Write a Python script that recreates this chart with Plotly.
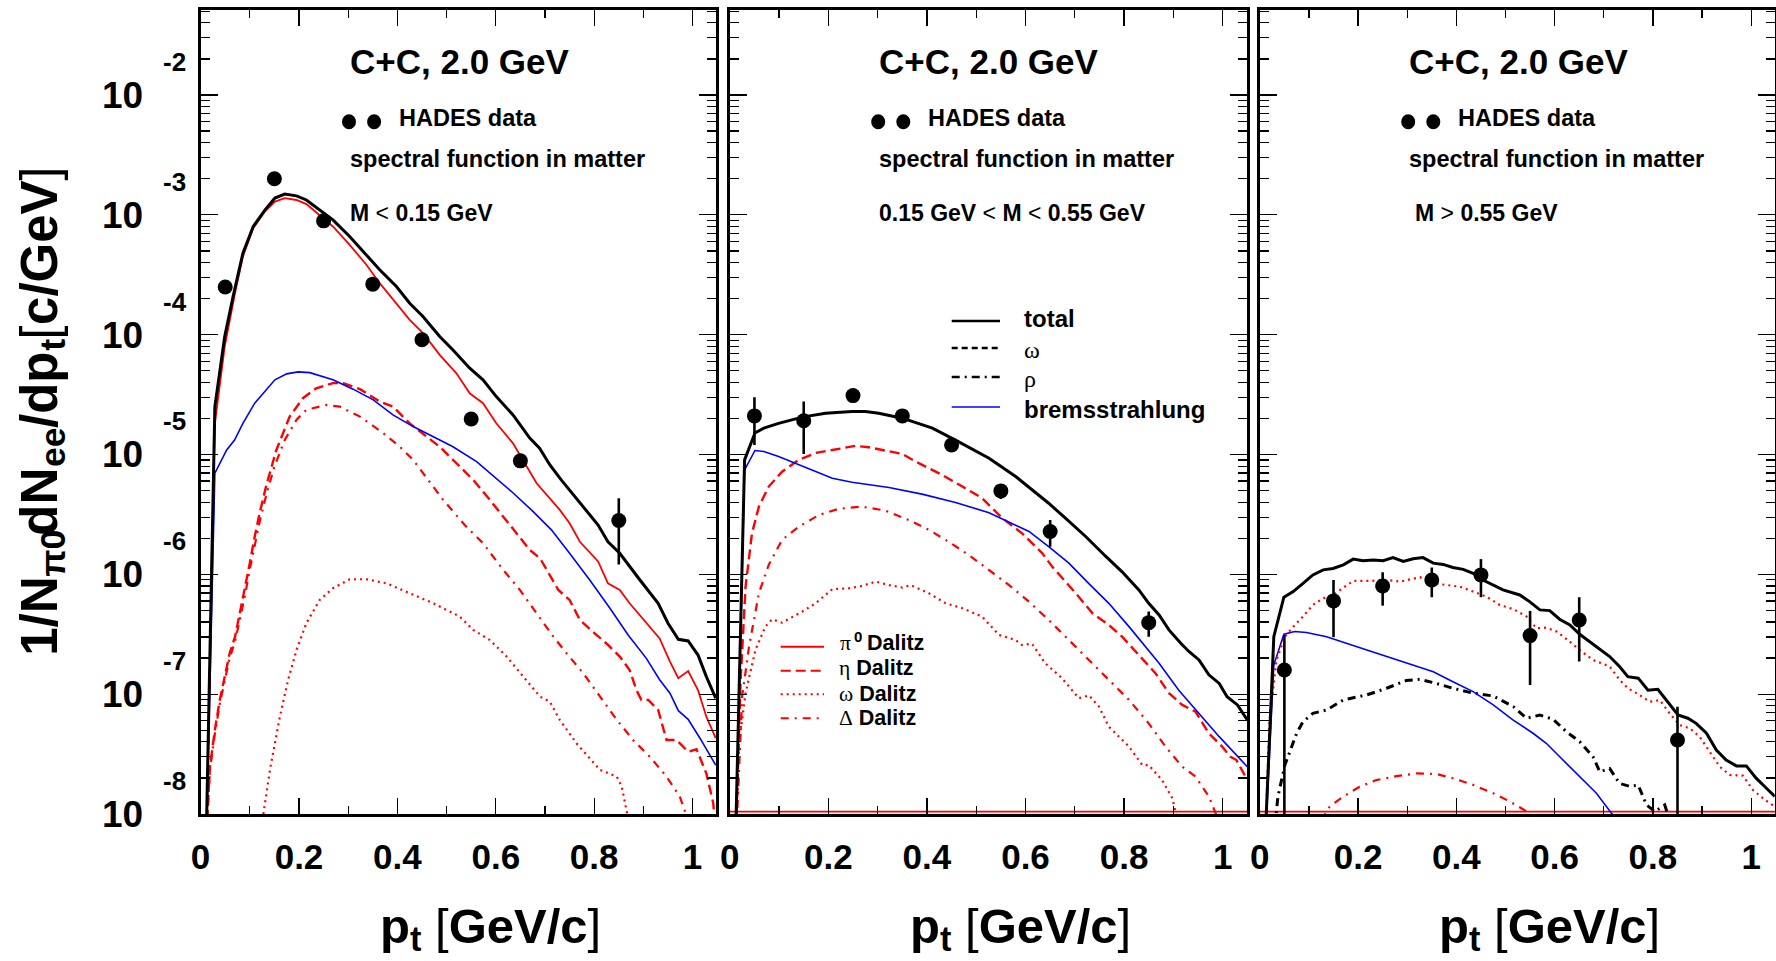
import plotly.graph_objects as go

W, H = 1776, 961

# ----------------------------- data -----------------------------
data_pt = [0.05, 0.15, 0.25, 0.35, 0.45, 0.55, 0.65, 0.85]

# ---- panel 1 : M < 0.15 GeV ----
p1_data = [2.50e-4, 2.00e-3, 8.91e-4, 2.64e-4, 9.06e-5, 1.98e-5, 8.85e-6, 2.81e-6]
p1_err_hi = [2.0e-5, 1.6e-4, 7.0e-5, 2.1e-5, 7.0e-6, 1.6e-6, 7.0e-7, 1.5e-6]
p1_err_lo = [2.0e-5, 1.6e-4, 7.0e-5, 2.1e-5, 7.0e-6, 1.6e-6, 7.0e-7, 1.6e-6]

p1_total_pt = [0.010, 0.029, 0.049, 0.066, 0.086, 0.107, 0.131, 0.151, 0.171, 0.195, 0.215, 0.242, 0.269, 0.303,
               0.337, 0.364, 0.398, 0.425, 0.452, 0.486, 0.513, 0.547, 0.574, 0.601, 0.635, 0.669, 0.689, 0.710,
               0.733, 0.771, 0.808, 0.828, 0.852, 0.893, 0.930, 0.950, 0.971, 0.991, 1.011, 1.028, 1.047]
p1_total = [3.16e-9, 2.51e-5, 9.64e-5, 2.08e-4, 4.79e-4, 8.00e-4, 1.10e-3, 1.38e-3, 1.49e-3, 1.44e-3, 1.33e-3,
            1.10e-3, 9.08e-4, 6.59e-4, 4.63e-4, 3.48e-4, 2.52e-4, 1.83e-4, 1.42e-4, 9.64e-5, 7.46e-5, 5.25e-5,
            4.20e-5, 3.04e-5, 2.14e-5, 1.37e-5, 1.13e-5, 8.18e-6, 6.14e-6, 3.92e-6, 2.58e-6, 1.87e-6, 1.50e-6,
            8.97e-7, 5.73e-7, 3.91e-7, 2.87e-7, 2.78e-7, 2.12e-7, 1.40e-7, 9.25e-8]

p1_pi0_pt = [0.010, 0.029, 0.049, 0.070, 0.086, 0.107, 0.131, 0.151, 0.171, 0.195, 0.215, 0.242, 0.269, 0.303,
             0.337, 0.364, 0.398, 0.425, 0.452, 0.486, 0.520, 0.547, 0.574, 0.601, 0.635, 0.669, 0.683, 0.730,
             0.750, 0.771, 0.808, 0.828, 0.852, 0.872, 0.913, 0.933, 0.954, 0.971, 0.991, 1.011, 1.028, 1.047]
p1_pi0 = [3.16e-9, 1.82e-5, 7.96e-5, 2.22e-4, 4.49e-4, 7.74e-4, 1.07e-3, 1.29e-3, 1.38e-3, 1.33e-3, 1.23e-3,
          1.00e-3, 8.00e-4, 5.62e-4, 3.83e-4, 2.69e-4, 1.83e-4, 1.33e-4, 1.03e-4, 6.78e-5, 4.76e-5, 3.24e-5,
          2.68e-5, 1.82e-5, 1.24e-5, 7.19e-6, 5.75e-6, 3.45e-6, 2.67e-6, 1.87e-6, 1.28e-6, 8.41e-7, 7.41e-7,
          5.73e-7, 3.66e-7, 2.92e-7, 1.87e-7, 1.36e-7, 1.56e-7, 1.08e-7, 6.49e-8, 4.29e-8]

p1_brems_pt = [0.010, 0.029, 0.053, 0.069, 0.086, 0.110, 0.151, 0.175, 0.198, 0.222, 0.269, 0.310, 0.351, 0.391,
               0.432, 0.473, 0.513, 0.561, 0.601, 0.632, 0.676, 0.713, 0.750, 0.791, 0.832, 0.869, 0.906, 0.933,
               0.954, 0.971, 0.991, 1.015, 1.047]
p1_brems = [3.16e-9, 6.98e-6, 1.09e-5, 1.32e-5, 1.82e-5, 2.68e-5, 4.20e-5, 4.71e-5, 4.89e-5, 4.82e-5, 4.20e-5,
            3.51e-5, 2.86e-5, 2.14e-5, 1.71e-5, 1.41e-5, 1.16e-5, 8.73e-6, 6.34e-6, 4.91e-6, 3.34e-6, 2.35e-6,
            1.50e-6, 8.97e-7, 5.21e-7, 3.12e-7, 1.99e-7, 1.32e-7, 1.02e-7, 7.28e-8, 6.17e-8, 4.29e-8, 2.56e-8]

p1_eta_pt = [0.010, 0.019, 0.029, 0.039, 0.049, 0.059, 0.070, 0.080, 0.090, 0.100, 0.110, 0.120, 0.134, 0.154,
             0.181, 0.208, 0.235, 0.269, 0.290, 0.324, 0.364, 0.391, 0.425, 0.459, 0.486, 0.520, 0.554, 0.588,
             0.615, 0.642, 0.669, 0.690, 0.706, 0.727, 0.750, 0.771, 0.801, 0.828, 0.852, 0.872, 0.886, 0.896,
             0.910, 0.930, 0.947, 0.967, 0.991, 1.008, 1.028, 1.042, 1.048]
p1_eta = [5.01e-9, 2.48e-8, 5.02e-8, 8.95e-8, 1.40e-7, 2.19e-7, 3.02e-7, 4.73e-7, 7.41e-7, 1.24e-6, 2.07e-6,
          3.24e-6, 5.62e-6, 1.09e-5, 2.07e-5, 2.95e-5, 3.57e-5, 3.94e-5, 3.94e-5, 3.51e-5, 2.77e-5, 2.51e-5,
          1.82e-5, 1.41e-5, 1.16e-5, 8.45e-6, 6.14e-6, 4.18e-6, 3.03e-6, 2.20e-6, 1.60e-6, 1.36e-6, 1.05e-6,
          7.41e-7, 6.11e-7, 4.16e-7, 3.22e-7, 2.58e-7, 2.06e-7, 1.59e-7, 1.08e-7, 8.95e-8, 8.95e-8, 7.38e-8,
          4.15e-8, 4.15e-8, 3.31e-8, 3.47e-8, 2.18e-8, 1.23e-8, 6.31e-9]

p1_delta_pt = [0.010, 0.019, 0.029, 0.039, 0.049, 0.059, 0.070, 0.080, 0.090, 0.100, 0.110, 0.120, 0.134, 0.150,
               0.171, 0.195, 0.215, 0.256, 0.283, 0.324, 0.371, 0.405, 0.432, 0.463, 0.493, 0.540, 0.574, 0.615,
               0.649, 0.683, 0.717, 0.744, 0.778, 0.812, 0.846, 0.879, 0.913, 0.947, 0.974, 0.995]
p1_delta = [5.01e-9, 2.34e-8, 4.68e-8, 8.32e-8, 1.29e-7, 2.00e-7, 2.75e-7, 4.27e-7, 6.61e-7, 1.10e-6, 1.78e-6,
            2.75e-6, 4.68e-6, 7.94e-6, 1.32e-5, 1.95e-5, 2.36e-5, 2.59e-5, 2.51e-5, 2.07e-5, 1.51e-5, 1.16e-5,
            9.02e-6, 6.14e-6, 4.18e-6, 2.50e-6, 1.82e-6, 1.09e-6, 7.41e-7, 4.73e-7, 3.02e-7, 2.19e-7, 1.49e-7,
            9.53e-8, 6.10e-8, 4.15e-8, 3.01e-8, 2.05e-8, 1.40e-8, 7.94e-9]

p1_omega_pt = [0.124, 0.141, 0.161, 0.178, 0.195, 0.215, 0.242, 0.269, 0.303, 0.337, 0.378, 0.418, 0.473, 0.527,
               0.554, 0.588, 0.622, 0.656, 0.690, 0.710, 0.730, 0.764, 0.812, 0.846, 0.856, 0.872]
p1_omega = [7.94e-9, 2.34e-8, 6.46e-8, 1.32e-7, 2.34e-7, 3.91e-7, 6.11e-7, 7.66e-7, 9.10e-7, 9.10e-7, 8.41e-7,
            7.18e-7, 5.73e-7, 4.44e-7, 3.44e-7, 2.83e-7, 2.06e-7, 1.40e-7, 9.53e-8, 8.65e-8, 6.10e-8, 3.89e-8,
            2.33e-8, 2.05e-8, 1.69e-8, 7.94e-9]

# ---- panel 2 : 0.15 GeV < M < 0.55 GeV ----
p2_data = [2.10e-5, 1.91e-5, 3.10e-5, 2.10e-5, 1.20e-5, 4.97e-6, 2.28e-6, 3.95e-7]
p2_err_hi = [9.1e-6, 8.6e-6, 2.0e-6, 1.5e-6, 8.0e-7, 6.0e-7, 5.6e-7, 9.4e-8]
p2_err_lo = [9.0e-6, 9.0e-6, 2.0e-6, 1.5e-6, 8.0e-7, 7.1e-7, 5.8e-7, 9.3e-8]

p2_total_pt = [0.010, 0.030, 0.051, 0.069, 0.099, 0.147, 0.194, 0.248, 0.275, 0.302, 0.350, 0.411, 0.458, 0.526,
               0.580, 0.647, 0.681, 0.722, 0.763, 0.796, 0.830, 0.850, 0.871, 0.891, 0.915, 0.932, 0.952, 0.972,
               0.993, 1.009, 1.030, 1.050]
p2_total = [3.16e-9, 9.02e-6, 1.51e-5, 1.66e-5, 1.82e-5, 2.05e-5, 2.21e-5, 2.28e-5, 2.28e-5, 2.21e-5, 2.01e-5,
            1.66e-5, 1.32e-5, 9.31e-6, 6.55e-6, 3.92e-6, 2.94e-6, 2.07e-6, 1.41e-6, 1.05e-6, 7.41e-7, 5.73e-7,
            4.58e-7, 3.44e-7, 2.66e-7, 2.26e-7, 1.93e-7, 1.45e-7, 1.23e-7, 9.53e-8, 8.13e-8, 6.10e-8]

p2_brems_pt = [0.010, 0.030, 0.051, 0.069, 0.099, 0.133, 0.167, 0.208, 0.248, 0.323, 0.390, 0.458, 0.526, 0.566,
               0.607, 0.647, 0.688, 0.728, 0.769, 0.810, 0.850, 0.871, 0.911, 0.952, 0.993, 1.050]
p2_brems = [3.16e-9, 7.43e-6, 1.08e-5, 1.06e-5, 9.62e-6, 8.45e-6, 7.35e-6, 6.34e-6, 5.87e-6, 5.30e-6, 4.67e-6,
            3.97e-6, 3.27e-6, 2.75e-6, 2.28e-6, 1.70e-6, 1.24e-6, 8.41e-7, 5.73e-7, 3.66e-7, 2.34e-7, 1.81e-7,
            1.08e-7, 6.92e-8, 4.42e-8, 2.48e-8]

p2_eta_pt = [0.010, 0.022, 0.032, 0.045, 0.059, 0.079, 0.106, 0.140, 0.174, 0.215, 0.255, 0.282, 0.350, 0.377,
             0.431, 0.472, 0.512, 0.553, 0.593, 0.634, 0.654, 0.675, 0.702, 0.736, 0.769, 0.796, 0.830, 0.864,
             0.891, 0.918, 0.945, 0.972, 0.999, 1.015, 1.028, 1.050]
p2_eta = [3.16e-9, 1.32e-7, 7.89e-7, 2.20e-6, 3.67e-6, 5.40e-6, 7.19e-6, 9.02e-6, 1.03e-5, 1.11e-5, 1.18e-5,
          1.15e-5, 1.01e-5, 8.73e-6, 6.76e-6, 5.40e-6, 4.32e-6, 2.94e-6, 2.20e-6, 1.50e-6, 1.16e-6, 9.27e-7,
          6.95e-7, 4.73e-7, 3.78e-7, 3.02e-7, 2.12e-7, 1.49e-7, 1.02e-7, 8.13e-8, 7.14e-8, 4.71e-8, 3.65e-8,
          3.01e-8, 2.82e-8, 1.92e-8]

p2_delta_pt = [0.010, 0.025, 0.039, 0.059, 0.079, 0.106, 0.140, 0.181, 0.221, 0.268, 0.316, 0.363, 0.404, 0.444,
               0.485, 0.526, 0.566, 0.607, 0.647, 0.688, 0.728, 0.769, 0.810, 0.850, 0.884, 0.918, 0.945, 0.972,
               0.996]
p2_delta = [3.16e-9, 9.53e-8, 2.49e-7, 6.95e-7, 1.20e-6, 1.94e-6, 2.50e-6, 3.13e-6, 3.52e-6, 3.67e-6, 3.40e-6,
            2.84e-6, 2.35e-6, 1.87e-6, 1.45e-6, 1.09e-6, 8.17e-7, 5.92e-7, 4.16e-7, 2.83e-7, 1.93e-7, 1.32e-7,
            8.95e-8, 5.71e-8, 3.65e-8, 2.48e-8, 2.05e-8, 1.40e-8, 7.94e-9]

p2_omega_pt = [0.010, 0.018, 0.032, 0.052, 0.072, 0.086, 0.106, 0.147, 0.174, 0.208, 0.241, 0.268, 0.296, 0.323,
               0.350, 0.367, 0.404, 0.438, 0.472, 0.512, 0.546, 0.580, 0.593, 0.613, 0.640, 0.674, 0.708, 0.729,
               0.749, 0.769, 0.810, 0.837, 0.850, 0.877, 0.898, 0.911]
p2_omega = [3.16e-9, 3.65e-8, 1.02e-7, 2.34e-7, 3.66e-7, 4.22e-7, 3.95e-7, 4.89e-7, 5.73e-7, 7.52e-7, 7.64e-7,
            8.00e-7, 8.69e-7, 8.13e-7, 7.76e-7, 8.13e-7, 6.95e-7, 5.73e-7, 5.21e-7, 4.44e-7, 3.12e-7, 2.83e-7,
            2.57e-7, 2.64e-7, 1.81e-7, 1.36e-7, 9.25e-8, 9.77e-8, 7.87e-8, 5.36e-8, 3.65e-8, 2.56e-8, 2.56e-8,
            1.92e-8, 1.35e-8, 7.94e-9]

p2_pi0_pt = [0.0, 1.05]
p2_pi0 = [0.0, 0.0]

# ---- panel 3 : M > 0.55 GeV ----
p3_data = [1.59e-7, 6.00e-7, 8.00e-7, 8.97e-7, 9.89e-7, 3.08e-7, 4.16e-7, 4.15e-8]
p3_err_hi = [1.53e-7, 2.97e-7, 2.40e-7, 2.43e-7, 3.51e-7, 1.86e-7, 2.28e-7, 3.72e-8]
p3_err_lo = [1.585e-7, 3.01e-7, 2.52e-7, 2.53e-7, 3.45e-7, 1.89e-7, 2.29e-7, 4.10e-8]

p3_total_pt = [0.008, 0.0285, 0.049, 0.068, 0.088, 0.108, 0.129, 0.149, 0.170, 0.190, 0.210, 0.231, 0.251, 0.271,
               0.292, 0.312, 0.332, 0.353, 0.373, 0.393, 0.414, 0.434, 0.454, 0.475, 0.495, 0.529, 0.549, 0.570,
               0.590, 0.610, 0.631, 0.651, 0.678, 0.712, 0.732, 0.749, 0.770, 0.790, 0.810, 0.831, 0.851, 0.871,
               0.888, 0.909, 0.929, 0.949, 0.970, 0.990, 1.010, 1.031, 1.048]
p3_total = [3.16e-9, 3.02e-7, 6.44e-7, 7.18e-7, 8.41e-7, 9.89e-7, 1.09e-6, 1.12e-6, 1.20e-6, 1.34e-6, 1.30e-6,
            1.32e-6, 1.30e-6, 1.38e-6, 1.28e-6, 1.35e-6, 1.38e-6, 1.24e-6, 1.21e-6, 1.14e-6, 1.10e-6, 1.02e-6,
            8.97e-7, 8.17e-7, 7.41e-7, 6.73e-7, 5.92e-7, 5.05e-7, 4.98e-7, 4.22e-7, 3.78e-7, 3.16e-7, 2.62e-7,
            2.06e-7, 1.70e-7, 1.40e-7, 1.36e-7, 1.08e-7, 1.10e-7, 8.49e-8, 6.70e-8, 6.30e-8, 5.71e-8, 4.72e-8,
            3.42e-8, 2.82e-8, 2.52e-8, 2.52e-8, 1.99e-8, 1.64e-8, 1.40e-8]

p3_omega_pt = [0.008, 0.020, 0.034, 0.051, 0.068, 0.088, 0.108, 0.129, 0.149, 0.170, 0.190, 0.224, 0.258, 0.285,
               0.326, 0.353, 0.380, 0.407, 0.434, 0.461, 0.488, 0.516, 0.543, 0.563, 0.583, 0.604, 0.631, 0.651,
               0.678, 0.712, 0.732, 0.749, 0.773, 0.793, 0.814, 0.834, 0.854, 0.875, 0.895, 0.916, 0.936, 0.956,
               0.983, 1.004, 1.024, 1.048]
p3_omega = [3.16e-9, 6.10e-8, 1.93e-7, 3.02e-7, 3.66e-7, 4.44e-7, 5.56e-7, 6.31e-7, 6.73e-7, 7.66e-7, 8.81e-7,
            8.81e-7, 8.97e-7, 8.69e-7, 9.46e-7, 8.41e-7, 8.17e-7, 7.89e-7, 7.18e-7, 6.52e-7, 5.56e-7, 5.12e-7,
            4.44e-7, 3.55e-7, 3.59e-7, 3.33e-7, 2.74e-7, 2.34e-7, 1.93e-7, 1.70e-7, 1.32e-7, 1.12e-7, 9.84e-8,
            8.65e-8, 8.91e-8, 6.92e-8, 5.53e-8, 5.19e-8, 4.42e-8, 3.31e-8, 2.48e-8, 2.12e-8, 2.09e-8, 1.58e-8,
            1.35e-8, 1.15e-8]

p3_brems_pt = [0.008, 0.0285, 0.049, 0.071, 0.095, 0.136, 0.176, 0.217, 0.271, 0.312, 0.353, 0.393, 0.434, 0.475,
               0.515, 0.556, 0.583, 0.617, 0.651, 0.685, 0.726]
p3_brems = [3.16e-9, 1.75e-7, 3.16e-7, 3.33e-7, 3.27e-7, 3.02e-7, 2.66e-7, 2.34e-7, 1.99e-7, 1.75e-7, 1.54e-7,
            1.27e-7, 1.05e-7, 8.13e-8, 6.10e-8, 4.72e-8, 3.89e-8, 2.82e-8, 2.05e-8, 1.49e-8, 8.91e-9]

p3_rho_pt = [0.0305, 0.037, 0.051, 0.064, 0.075, 0.088, 0.108, 0.136, 0.170, 0.217, 0.258, 0.298, 0.326, 0.359,
             0.393, 0.434, 0.475, 0.516, 0.543, 0.570, 0.597, 0.624, 0.651, 0.678, 0.692, 0.712, 0.732, 0.753,
             0.770, 0.787, 0.804, 0.824, 0.838]
p3_rho = [7.94e-9, 1.40e-8, 2.56e-8, 3.65e-8, 4.72e-8, 5.89e-8, 6.92e-8, 7.38e-8, 8.95e-8, 9.84e-8, 1.12e-7,
          1.30e-7, 1.33e-7, 1.23e-7, 1.12e-7, 1.02e-7, 9.66e-8, 7.87e-8, 6.30e-8, 6.70e-8, 6.17e-8, 4.86e-8,
          4.02e-8, 3.01e-8, 2.25e-8, 2.40e-8, 1.80e-8, 1.70e-8, 1.74e-8, 1.19e-8, 1.05e-8, 1.19e-8, 7.94e-9]

p3_delta_pt = [0.125, 0.142, 0.170, 0.203, 0.237, 0.278, 0.319, 0.359, 0.393, 0.434, 0.475, 0.509, 0.543, 0.555]
p3_delta = [8.91e-9, 1.15e-8, 1.40e-8, 1.69e-8, 1.92e-8, 2.07e-8, 2.18e-8, 2.16e-8, 1.99e-8, 1.75e-8, 1.49e-8,
            1.27e-8, 1.05e-8, 7.94e-9]

p3_pi0_pt = [0.0, 1.05]
p3_pi0 = [0.0, 0.0]

panel_titles = ["C+C, 2.0 GeV", "C+C, 2.0 GeV", "C+C, 2.0 GeV"]
mass_labels = ["<b>M</b> &lt; <b>0.15 GeV</b>",
               "<b>0.15 GeV</b> &lt; <b>M</b> &lt; <b>0.55 GeV</b>",
               "<b>M</b> &gt; <b>0.55 GeV</b>"]
x_tick_vals = [0, 0.2, 0.4, 0.6, 0.8, 1.0]
x_tick_text = ["0", "0.2", "0.4", "0.6", "0.8", "1"]
y_decades = [-8, -7, -6, -5, -4, -3, -2]

# ----------------------------- layout constants -----------------------------
FONT = "Liberation Sans, Arial, Helvetica, sans-serif"
SERIF = "Liberation Serif, Times New Roman, serif"
PANEL_L = [200.6, 729.8, 1259.8]
PANEL_R = [716.2, 1247.3, 1774.8]
X_MAX = [1.048, 1.050, 1.048]
Y_TOP_PX, Y_BOT_PX = 10, 814
Y_RANGE = [-8, -1.2907]
Y_FLOOR = 1.045e-8   # zero-valued curves are drawn on the lower frame

RED, BLUE, BLACK = "#ff0000", "#0000ff", "#000000"
STY = {
    "total": dict(color=BLACK, width=3, dash="solid"),
    "pi0": dict(color=RED, width=1.8, dash="solid"),
    "eta": dict(color=RED, width=2.4, dash="10px,5px"),
    "omega": dict(color=RED, width=2.2, dash="2px,4px"),
    "delta": dict(color=RED, width=2.2, dash="8px,6px,2px,6px"),
    "brems": dict(color=BLUE, width=1.6, dash="solid"),
    "rho": dict(color=BLACK, width=3, dash="8px,5px,2px,5px"),
    "omega_dir": dict(color=BLACK, width=2.5, dash="6px,4px"),
}

panels = [
    dict(curves=[("eta", p1_eta_pt, p1_eta), ("delta", p1_delta_pt, p1_delta),
                 ("omega", p1_omega_pt, p1_omega), ("brems", p1_brems_pt, p1_brems),
                 ("pi0", p1_pi0_pt, p1_pi0), ("total", p1_total_pt, p1_total)],
         data=(p1_data, p1_err_hi, p1_err_lo)),
    dict(curves=[("pi0", p2_pi0_pt, p2_pi0), ("omega", p2_omega_pt, p2_omega),
                 ("delta", p2_delta_pt, p2_delta), ("eta", p2_eta_pt, p2_eta),
                 ("brems", p2_brems_pt, p2_brems), ("total", p2_total_pt, p2_total)],
         data=(p2_data, p2_err_hi, p2_err_lo)),
    dict(curves=[("pi0", p3_pi0_pt, p3_pi0), ("delta", p3_delta_pt, p3_delta),
                 ("rho", p3_rho_pt, p3_rho), ("brems", p3_brems_pt, p3_brems),
                 ("omega", p3_omega_pt, p3_omega), ("total", p3_total_pt, p3_total)],
         data=(p3_data, p3_err_hi, p3_err_lo)),
]

fig = go.Figure()

for i, pan in enumerate(panels):
    sfx = "" if i == 0 else str(i + 1)
    for key, pts, vals in pan["curves"]:
        yy = [v if v > 0 else Y_FLOOR for v in vals]
        fig.add_trace(go.Scatter(x=pts, y=yy, mode="lines", line=STY[key],
                                 xaxis="x" + sfx, yaxis="y" + sfx,
                                 hoverinfo="skip", showlegend=False))
    dvals, ehi, elo = pan["data"]
    fig.add_trace(go.Scatter(
        x=data_pt, y=dvals, mode="markers",
        marker=dict(color=BLACK, size=15, symbol="circle"),
        error_y=dict(type="data", array=ehi, arrayminus=elo, symmetric=False,
                     color=BLACK, thickness=2.6, width=0),
        xaxis="x" + sfx, yaxis="y" + sfx, hoverinfo="skip", showlegend=False))

# ----------------------------- axes -----------------------------
minor_y = [m * 10.0 ** e for e in range(-8, -2) for m in range(2, 10)] + [m * 1e-2 for m in range(2, 6)]
layout = {}
for i in range(3):
    sfx = "" if i == 0 else str(i + 1)
    layout["xaxis" + sfx] = dict(
        domain=[PANEL_L[i] / W, PANEL_R[i] / W], range=[0, X_MAX[i]],
        anchor="y" + sfx, showgrid=False, zeroline=False,
        showline=True, linewidth=3, linecolor=BLACK, mirror="ticks",
        ticks="inside", ticklen=16, tickwidth=1.3, tickcolor=BLACK,
        tickmode="array", tickvals=x_tick_vals, ticktext=x_tick_text,
        tickfont=dict(family=FONT, size=35, color=BLACK, weight="bold"),
        ticklabelstandoff=10,
        minor=dict(ticks="inside", ticklen=8, tickwidth=1.2, tickcolor=BLACK,
                   tickmode="array", tickvals=[0.1, 0.3, 0.5, 0.7, 0.9], showgrid=False),
        automargin=False, fixedrange=True)
    layout["yaxis" + sfx] = dict(
        domain=[1 - Y_BOT_PX / H, 1 - Y_TOP_PX / H], type="log", range=Y_RANGE,
        anchor="x" + sfx, showgrid=False, zeroline=False,
        showline=True, linewidth=3, linecolor=BLACK, mirror="ticks",
        ticks="inside", ticklen=17, tickwidth=1.3, tickcolor=BLACK,
        tickmode="array", tickvals=[10.0 ** e for e in y_decades],
        ticktext=["10"] * len(y_decades), showticklabels=(i == 0),
        tickfont=dict(family=FONT, size=37, color=BLACK, weight="bold"),
        ticklabelstandoff=47,
        minor=dict(ticks="inside", ticklen=9, tickwidth=1.2, tickcolor=BLACK,
                   tickmode="array", tickvals=minor_y, showgrid=False),
        automargin=False, fixedrange=True)


def ann(text, x, y, size, xanchor="left", yanchor="middle", **kw):
    d = dict(text=text, x=x / W, y=1 - y / H, xref="paper", yref="paper", showarrow=False,
             xanchor=xanchor, yanchor=yanchor, font=dict(family=FONT, size=size, color=BLACK))
    d.update(kw)
    return d


# advance widths (em) of the glyphs used in the composed axis titles
ADV_BOLD = {'1': .556, '/': .278, 'N': .722, 'd': .611, 'e': .556, 'p': .611, 't': .333,
            'c': .556, 'G': .778, 'V': .667, '0': .556, 'π': .60}
ADV_REG = {'[': .278, ']': .278, ' ': .278}


def tlen(s, size, bold=True):
    tab = ADV_BOLD if bold else ADV_REG
    return sum(tab[c] for c in s) * size


annotations = []
shapes = []
for i in range(3):
    L = PANEL_L[i]
    annotations.append(ann("<b>%s</b>" % panel_titles[i], L + 147, 62, 35))
    annotations.append(ann("<b>HADES data</b>", L + 196, 118, 23.5))
    annotations.append(ann("<b>spectral function in matter</b>", L + 147, 159, 23.5))
    annotations.append(ann(mass_labels[i], (L + 147) if i < 2 else (L + 153), 213, 23))
    for cx in (L + 148.4, L + 173.5):
        shapes.append(dict(type="circle", xref="paper", yref="paper",
                           x0=(cx - 7) / W, x1=(cx + 7) / W, y0=1 - (121.7 + 7.5) / H, y1=1 - (121.7 - 7.5) / H,
                           fillcolor=BLACK, line=dict(width=0)))

# x-axis titles: "p" + subscript "t" + " [GeV/c]"
XT_SIZE, XT_SUB = 49, 34.3
XT_BASE = 943
for xc in (490, 1020, 1549):
    total = (tlen("p", XT_SIZE) + tlen("t", XT_SUB) + tlen(" [", XT_SIZE, False)
             + tlen("GeV/c", XT_SIZE) + tlen("]", XT_SIZE, False))
    x0 = xc - total / 2
    annotations.append(ann("<b>p</b>", x0, XT_BASE - 0.3465 * XT_SIZE, XT_SIZE, borderpad=0))
    x1 = x0 + tlen("p", XT_SIZE)
    annotations.append(ann("<b>t</b>", x1, XT_BASE + 8 - 0.3465 * XT_SUB, XT_SUB, borderpad=0))
    x2 = x1 + tlen("t", XT_SUB) + tlen(" ", XT_SIZE, False)
    annotations.append(ann("[<b>GeV/c</b>]", x2, XT_BASE - 0.3465 * XT_SIZE, XT_SIZE, borderpad=0))

# exponents of the y tick labels (panel 1): placed above-right of each "10"
px_per_decade = (Y_BOT_PX - Y_TOP_PX) / (Y_RANGE[1] - Y_RANGE[0])
for e in y_decades:
    ypx = Y_BOT_PX - (e - Y_RANGE[0]) * px_per_decade - 33
    annotations.append(ann("<b>%d</b>" % e, 161, ypx, 26))

# y-axis title, rotated, composed from pieces (main text and subscripts)
YT_SIZE, YT_SUB = 51, 35.7
YT_BASE = 57          # baseline x of the rotated main text
yt_pieces = [("1/N", False, True), ("π0", True, True), ("dN", False, True), ("ee", True, True),
             ("/dp", False, True), ("t", True, True), ("[", False, False), ("c/GeV", False, True),
             ("]", False, False)]
ystart = 657
for txt, is_sub, bold in yt_pieces:
    size = YT_SUB if is_sub else YT_SIZE
    base = YT_BASE + (9 if is_sub else 0)
    label = "<b>%s</b>" % txt if bold else txt
    annotations.append(ann(label, base - 0.3465 * size, ystart, size, xanchor="center", yanchor="bottom",
                           textangle=-90, borderpad=0))
    ystart -= tlen(txt, size, bold)


def greek(s):
    return '<span style="font-family:%s">%s</span>' % (SERIF, s)


# legend (panel 2, black/blue block)
leg1 = [("total", "<b>total</b>", 321, 318.5),
        ("omega_dir", greek("ω"), 348, 350),
        ("rho", greek("ρ"), 377, 379),
        ("brems", "<b>bremsstrahlung</b>", 407, 409)]
for key, txt, ly, ty in leg1:
    st = STY[key]
    shapes.append(dict(type="line", xref="paper", yref="paper", x0=951.7 / W, x1=1000 / W,
                       y0=1 - ly / H, y1=1 - ly / H,
                       line=dict(color=st["color"], width=min(st["width"], 2.5), dash=st["dash"])))
    annotations.append(ann(txt, 1022, ty, 24))

# legend (panel 2, red block)
leg2 = [("pi0", None, 646.7, 643),
        ("eta", greek("η") + " <b>Dalitz</b>", 670.7, 668),
        ("omega", greek("ω") + " <b>Dalitz</b>", 694.3, 693.5),
        ("delta", greek("Δ") + " <b>Dalitz</b>", 718.3, 717.5)]
for key, txt, ly, ty in leg2:
    st = STY[key]
    shapes.append(dict(type="line", xref="paper", yref="paper", x0=780.7 / W, x1=824 / W,
                       y0=1 - ly / H, y1=1 - ly / H,
                       line=dict(color=st["color"], width=2, dash=st["dash"])))
    if txt is None:
        annotations.append(ann(greek("π"), 839, ty, 21.5, borderpad=0))
        annotations.append(ann("<b>0</b>", 852.5, ty - 7, 15, borderpad=0))
        annotations.append(ann("<b>Dalitz</b>", 866, ty, 21.5, borderpad=0))
    else:
        annotations.append(ann(txt, 838, ty, 21.5, borderpad=0))

fig.update_layout(
    width=W, height=H, margin=dict(l=0, r=0, t=0, b=0),
    paper_bgcolor="white", plot_bgcolor="white", showlegend=False,
    annotations=annotations, shapes=shapes, **layout)

fig.write_html("out.html", config={"displayModeBar": False, "staticPlot": True},
               post_script="document.body.style.margin='0px';document.body.style.overflow='hidden';")
